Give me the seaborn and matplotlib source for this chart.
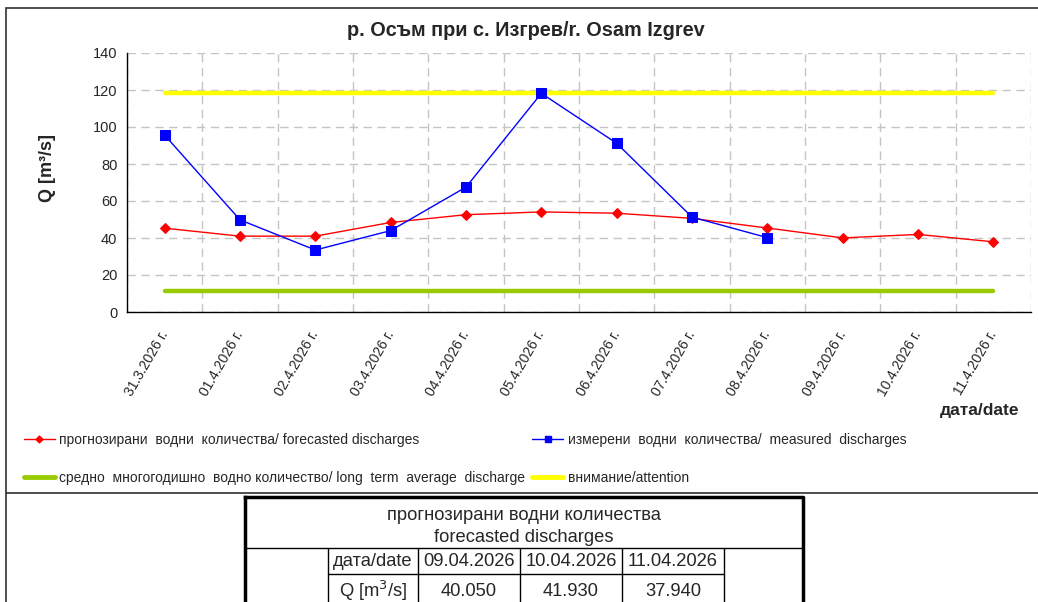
import numpy as np
import pandas as pd
import seaborn as sns
import matplotlib.pyplot as plt
from matplotlib.patches import Rectangle
from matplotlib.lines import Line2D

# --- data ---
dates = ["31.3.2026 г.", "01.4.2026 г.", "02.4.2026 г.", "03.4.2026 г.",
         "04.4.2026 г.", "05.4.2026 г.", "06.4.2026 г.", "07.4.2026 г.",
         "08.4.2026 г.", "09.4.2026 г.", "10.4.2026 г.", "11.4.2026 г."]
forecast = [45.3, 41.0, 41.0, 48.4, 52.6, 54.1, 53.4, 50.6, 45.4, 40.05, 41.93, 37.94]
measured = [95.6, 49.8, 33.5, 44.0, 67.5, 118.2, 91.2, 51.3, 40.2,
            np.nan, np.nan, np.nan]
long_term_avg = 11.5
attention = 118.3

table_dates = ["09.04.2026", "10.04.2026", "11.04.2026"]
table_q = ["40.050", "41.930", "37.940"]

title = "р. Осъм при с. Изгрев/r. Osam Izgrev"
lbl_forecast = "прогнозирани  водни  количества/ forecasted discharges"
lbl_measured = "измерени  водни  количества/  measured  discharges"
lbl_avg = "средно  многогодишно  водно количество/ long  term  average  discharge"
lbl_att = "внимание/attention"

sns.set_style("white")
plt.rcParams['font.family'] = ['Liberation Sans', 'DejaVu Sans']

W, H = 1038, 602
fig = plt.figure(figsize=(W / 100, H / 100), dpi=100)


def fx(px):
    return px / W


def fy(py):
    return 1 - py / H


ax = fig.add_axes([fx(127), fy(312), fx(1031 - 127), (312 - 53) / H])

df = pd.DataFrame({"date": dates, "forecast": forecast, "measured": measured,
                   "avg": [long_term_avg] * len(dates),
                   "att": [attention] * len(dates)})
df["x"] = np.arange(len(df))

sns.lineplot(data=df, x="x", y="avg", ax=ax, color="#99cc00", lw=3.2,
             solid_capstyle="round", zorder=2)
sns.lineplot(data=df, x="x", y="att", ax=ax, color="#ffff00", lw=3.2,
             solid_capstyle="round", zorder=2)
sns.lineplot(data=df, x="x", y="forecast", ax=ax, color="#ff0000", lw=1,
             marker="D", markersize=5.5, markeredgecolor="#ff0000", zorder=3)
sns.lineplot(data=df.dropna(subset=["measured"]), x="x", y="measured", ax=ax,
             color="#0000ff", lw=1, marker="s", markersize=7,
             markeredgecolor="#0000ff", zorder=4)

ax.set_xlim(-0.5, len(dates) - 0.5)
ax.set_ylim(0, 140)
ax.set_yticks(range(0, 141, 20))
ax.set_xticks(np.arange(-0.5, len(dates)), labels=[])
ax.set_xticks(df["x"], labels=dates, minor=True)
ax.tick_params(axis="x", which="minor", length=0, labelsize=10, pad=14)
ax.tick_params(axis="x", which="major", length=5, width=1, direction="out", color="black")
ax.tick_params(axis="y", length=5, width=1, direction="out", color="black", labelsize=10.5, pad=2)
for t in ax.get_xticklabels(minor=True):
    t.set_rotation(60)
    t.set_ha("right")
    t.set_va("center")
    t.set_rotation_mode("anchor")
ax.set_xlabel("")
ax.set_ylabel("")
ax.grid(True, which="major", color="#c4c4c4", ls=(0, (6, 4)), lw=1)
for s in ["top", "right"]:
    ax.spines[s].set_visible(False)
for s in ["left", "bottom"]:
    ax.spines[s].set_color("black")
    ax.spines[s].set_linewidth(1)

fig.text(fx(526), fy(31), title, ha="center", va="center", fontsize=14.3, fontweight="bold")
fig.text(fx(47), fy(168), "Q [m³/s]", ha="center", va="center", rotation=90,
         fontsize=13, fontweight="bold")
fig.text(fx(1019), fy(410), "дата/date", ha="right", va="center", fontsize=12.5,
         fontweight="bold")

# legend
handles = [
    Line2D([], [], color="#ff0000", lw=1, marker="D", markersize=3.5),
    Line2D([], [], color="#99cc00", lw=3.5),
    Line2D([], [], color="#0000ff", lw=1, marker="s", markersize=4.5),
    Line2D([], [], color="#ffff00", lw=3.5),
]
labels = [lbl_forecast, lbl_avg, lbl_measured, lbl_att]
fig.legend(handles, labels, ncol=2, loc="upper left",
           bbox_to_anchor=(fx(24), fy(433)), frameon=False, fontsize=10,
           handlelength=2.2, handletextpad=0.35, columnspacing=0.5,
           labelspacing=1.75, borderaxespad=0, borderpad=0)

# chart frame
fig.patches.append(Rectangle((fx(6), fy(493)), fx(1040 - 6), (493 - 8) / H,
                             transform=fig.transFigure, fill=False,
                             edgecolor="#303030", lw=1.2))
fig.add_artist(Line2D([fx(6), fx(6)], [fy(493), 0], transform=fig.transFigure,
                      color="#303030", lw=1.2))

# forecast table
tx0, tx1 = 245, 803
ty0, ty_mid, ty_row = 497, 548, 574
tax = fig.add_axes([0, 0, 1, 1])
tax.set_xlim(0, W)
tax.set_ylim(H, 0)
tax.axis("off")
col_edges = [328, 418, 520, 622, 724]
row_h = ty_row - ty_mid
tfs = 13.2
tax.plot([tx0, tx1], [ty_mid, ty_mid], color="black", lw=1)
tax.plot([col_edges[0], col_edges[-1]], [ty_row, ty_row], color="black", lw=1)
for cx in col_edges:
    tax.plot([cx, cx], [ty_mid, H + 5], color="black", lw=1)
tax.plot([tx0, tx1, tx1], [ty0, ty0, H + 5], color="black", lw=2.5, solid_capstyle="projecting")
tax.plot([tx0, tx0], [ty0, H + 5], color="black", lw=2.5, solid_capstyle="projecting")
tax.text((tx0 + tx1) / 2, (ty0 + ty_mid) / 2 + 4,
         "прогнозирани водни количества\nforecasted discharges",
         ha="center", va="center", fontsize=tfs, linespacing=1.35)
tax.text((col_edges[0] + col_edges[1]) / 2, ty_mid + row_h / 2 + 1, "дата/date",
         ha="center", va="center", fontsize=tfs)
tax.text((col_edges[0] + col_edges[1]) / 2, ty_row + row_h / 2 + 4, "Q [m$^3$/s]",
         ha="center", va="center", fontsize=tfs)
for i, (d, q) in enumerate(zip(table_dates, table_q)):
    cx = (col_edges[i + 1] + col_edges[i + 2]) / 2
    tax.text(cx, ty_mid + row_h / 2 + 1, d, ha="center", va="center", fontsize=tfs)
    tax.text(cx, ty_row + row_h / 2 + 4, q, ha="center", va="center", fontsize=tfs)

fig.savefig("out.png", dpi=100)
